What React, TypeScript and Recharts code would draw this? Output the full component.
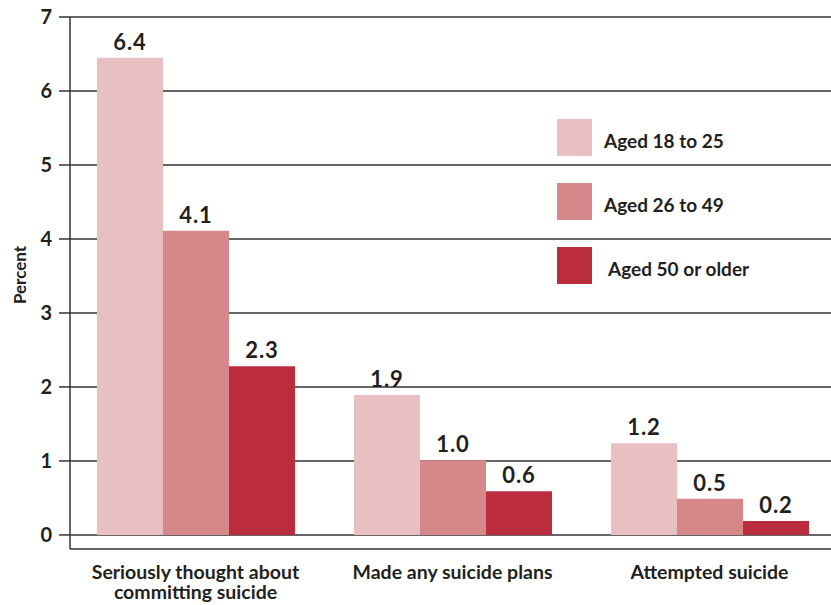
import { BarChart, Bar, XAxis, YAxis, CartesianGrid, LabelList } from 'recharts'

const CATEGORIES = ['Seriously thought about\ncommitting suicide', 'Made any suicide plans', 'Attempted suicide']

// bar heights; the printed labels are rounded
const AGED_18_25 = [6.45, 1.89, 1.24]
const AGED_26_49 = [4.11, 1.01, 0.49]
const AGED_50_PLUS = [2.28, 0.59, 0.19]

const LABELS_18_25 = ['6.4', '1.9', '1.2']
const LABELS_26_49 = ['4.1', '1.0', '0.5']
const LABELS_50_PLUS = ['2.3', '0.6', '0.2']

const Y_TICKS = [0, 1, 2, 3, 4, 5, 6, 7]

const SERIES = [
  { key: 'a', name: 'Aged 18 to 25', color: '#E8C0C1', values: AGED_18_25, labels: LABELS_18_25 },
  { key: 'b', name: 'Aged 26 to 49', color: '#D5878A', values: AGED_26_49, labels: LABELS_26_49 },
  { key: 'c', name: 'Aged 50 or older', color: '#BC2C3F', values: AGED_50_PLUS, labels: LABELS_50_PLUS },
]

const data = CATEGORIES.map((category, i) => {
  const row: Record<string, string | number> = { category }
  SERIES.forEach((s) => { row[s.key] = s.values[i] })
  return row
})

const FONT = 'Lato, "Open Sans", sans-serif'
const INK = '#231F20'

function CategoryTick({ x, y, payload }: any) {
  const lines = String(payload.value).split('\n')
  return (
    <g>
      {lines.map((line, i) => (
        <text key={i} x={x} y={y + 22 + i * 20} textAnchor="middle" fill={INK} fontFamily={FONT} fontWeight={700} fontSize={19.5}>
          {line}
        </text>
      ))}
    </g>
  )
}

function valueLabel(labels: string[]) {
  return ({ x, y, width, index }: any) => (
    <text
      x={Number(x) + Number(width) / 2}
      y={Number(y) - 8}
      textAnchor="middle"
      fill={INK}
      fontFamily={FONT}
      fontWeight={700}
      fontSize={22}
      letterSpacing={1}
    >
      {labels[index]}
    </text>
  )
}

function PercentLabel({ viewBox }: any) {
  const cx = 19
  const cy = viewBox.y + viewBox.height / 2 - 8
  return (
    <text x={cx} y={cy} transform={`rotate(-90 ${cx} ${cy})`} textAnchor="middle" dominantBaseline="central"
      fill={INK} fontFamily={FONT} fontWeight={700} fontSize={17}>
      Percent
    </text>
  )
}

export default function App() {
  return (
    <div style={{ position: 'fixed', left: 0, top: 0, width: 831, height: 605, overflow: 'hidden', background: '#fff' }}>
      <BarChart
        width={838}
        height={605}
        data={data}
        margin={{ top: 17, right: 0, bottom: 0, left: 0 }}
        barCategoryGap={30}
        barGap={0}
      >
        <CartesianGrid vertical={false} stroke="#333" strokeWidth={1.5} />
        <XAxis
          dataKey="category"
          height={56}
          axisLine={false}
          tickLine={false}
          interval={0}
          padding={{ left: -3, right: 0 }}
          tick={<CategoryTick />}
        />
        <YAxis
          width={70}
          domain={[-0.19, 7]}
          ticks={Y_TICKS}
          allowDataOverflow
          axisLine={{ stroke: '#333', strokeWidth: 1.5 }}
          tickLine={{ stroke: '#333', strokeWidth: 1.5 }}
          tickSize={11}
          tickMargin={7}
          tick={{ fill: INK, fontFamily: FONT, fontWeight: 700, fontSize: 20 }}
          label={<PercentLabel />}
        />
        {SERIES.map((s) => (
          <Bar key={s.key} dataKey={s.key} name={s.name} fill={s.color} isAnimationActive={false}>
            <LabelList dataKey={s.key} content={valueLabel(s.labels)} />
          </Bar>
        ))}
      </BarChart>
      <div style={{ position: 'absolute', left: 557, top: 119, fontFamily: FONT }}>
        {SERIES.map((s, i) => (
          <div key={s.key} style={{ display: 'flex', alignItems: 'center', height: 37, marginBottom: 27 }}>
            <div style={{ width: 35, height: 37, background: s.color }} />
            <span style={{ marginLeft: i === 2 ? 16 : 12, fontSize: 19, fontWeight: 700, color: INK, paddingTop: 6 }}>
              {s.name}
            </span>
          </div>
        ))}
      </div>
    </div>
  )
}
